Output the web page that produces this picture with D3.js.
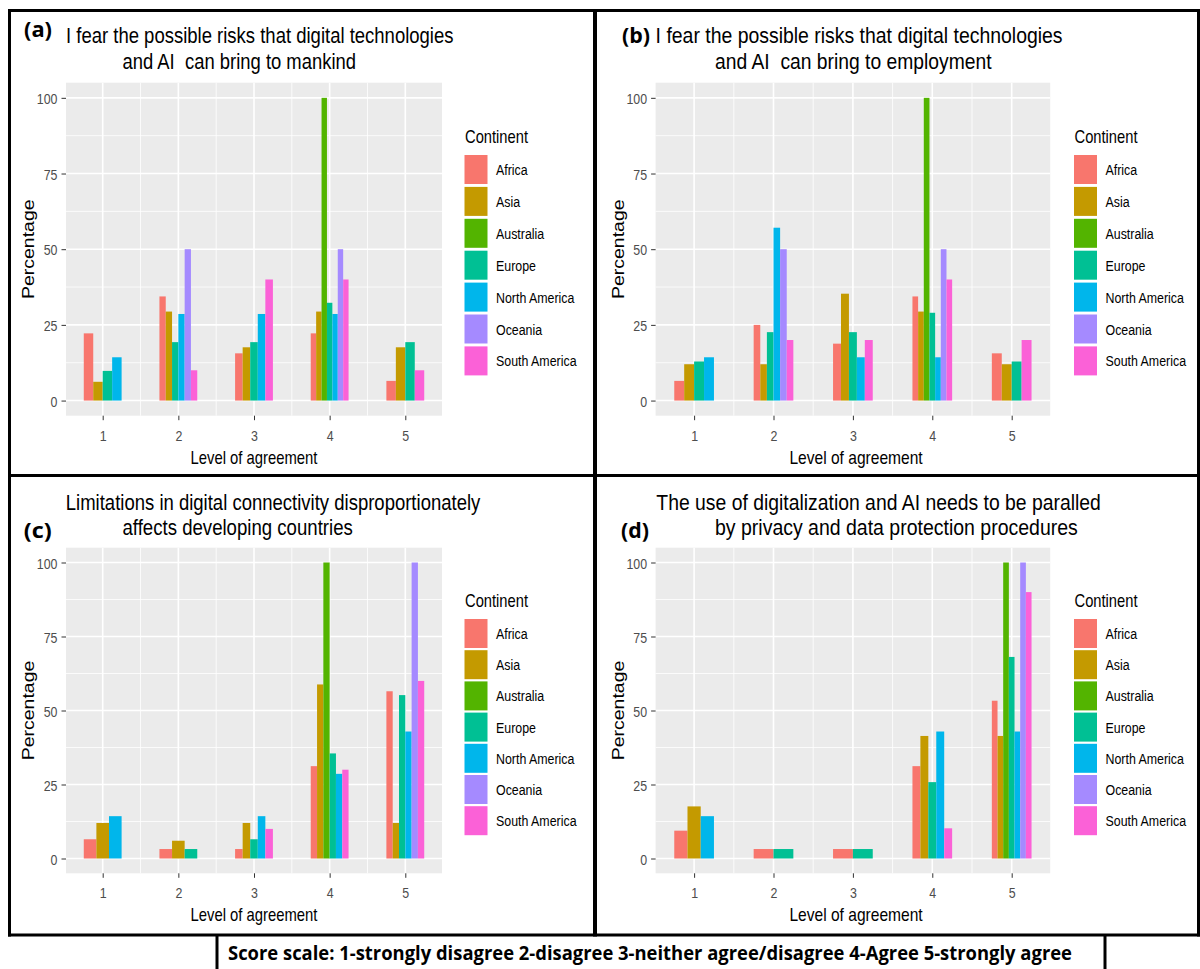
<!DOCTYPE html>
<html>
<head>
<meta charset="utf-8">
<script src="https://cdn.jsdelivr.net/npm/d3@7"></script>
<style>
  body { margin: 0; background: #fff; }
  svg { display: block; font-family: 'Liberation Sans', Arial, sans-serif; }
  text { white-space: pre; }
</style>
</head>
<body>
<svg id="chart" width="1200" height="969"></svg>
<script>
var levels = [1, 2, 3, 4, 5]
var continents = ['Africa', 'Asia', 'Australia', 'Europe', 'North America', 'Oceania', 'South America']
var colors = ['#F8766D', '#C49A00', '#53B400', '#00C094', '#00B6EB', '#A58AFF', '#FB61D7']
var yTicks = [0, 25, 50, 75, 100]

// percentage by level (rows) and continent (columns), null = nobody answered
var mankind = [
  [22.2, 6.2, null, 9.8, 14.3, null, null],
  [34.4, 29.4, null, 19.3, 28.6, 50, 10],
  [15.6, 17.6, null, 19.3, 28.6, null, 40],
  [22.2, 29.4, 100, 32.3, 28.6, 50, 40],
  [6.5, 17.6, null, 19.3, null, null, 10]
]
var employment = [
  [6.5, 12, null, 12.9, 14.3, null, null],
  [25, 12, null, 22.6, 57.1, 50, 20],
  [18.8, 35.3, null, 22.6, 14.3, null, 20],
  [34.4, 29.4, 100, 29, 14.3, 50, 40],
  [15.6, 12, null, 12.9, null, null, 20]
]
var connectivity = [
  [6.5, 12, null, null, 14.3, null, null],
  [3.2, 6, null, 3.2, null, null, null],
  [3.2, 12, null, 6.5, 14.3, null, 10],
  [31.2, 58.8, 100, 35.5, 28.6, null, 30],
  [56.5, 12, null, 55.2, 42.9, 100, 60]
]
var privacy = [
  [9.4, 17.6, null, null, 14.3, null, null],
  [3.2, null, null, 3.2, null, null, null],
  [3.2, null, null, 3.2, null, null, null],
  [31.2, 41.4, null, 25.8, 42.9, null, 10.2],
  [53.3, 41.4, 100, 68.1, 42.9, 100, 90]
]

var caption = 'Score scale: 1-strongly disagree 2-disagree 3-neither agree/disagree 4-Agree 5-strongly agree'

var SX = 0.8 // the source picture is squeezed horizontally
var svg = d3.select('#chart')

var panels = [
  {
    tag: '(a)', tagX: 24, tagY: 36.5, data: mankind,
    left: 66, right: 442, top: 82.7, bottom: 415.7,
    title: [
      {text: 'I fear the possible risks that digital technologies', x: 66, y: 43, w: 387.5},
      {text: 'and AI  can bring to mankind', x: 122.5, y: 69, w: 233.5}
    ],
    legendX: 464.5, legendTitleY: 142.5, keyTop: 155, keyStep: 31.9
  },
  {
    tag: '(b)', tagX: 622, tagY: 42.5, data: employment,
    left: 655.6, right: 1050.2, top: 82.7, bottom: 415.7,
    title: [
      {text: 'I fear the possible risks that digital technologies', x: 655.6, y: 43, w: 407},
      {text: 'and AI  can bring to employment', x: 715, y: 69, w: 276.5}
    ],
    legendX: 1074, legendTitleY: 142.5, keyTop: 155, keyStep: 31.9
  },
  {
    tag: '(c)', tagX: 23.7, tagY: 537.5, data: connectivity,
    left: 66, right: 442, top: 547.7, bottom: 873.3,
    title: [
      {text: 'Limitations in digital connectivity disproportionately', x: 65.8, y: 510, w: 414.5},
      {text: 'affects developing countries', x: 122.5, y: 535, w: 230.3}
    ],
    legendX: 464.5, legendTitleY: 606.5, keyTop: 619, keyStep: 31.2
  },
  {
    tag: '(d)', tagX: 621, tagY: 537.5, data: privacy,
    left: 655.6, right: 1050.2, top: 547.7, bottom: 873.3,
    title: [
      {text: 'The use of digitalization and AI needs to be paralled', x: 656.3, y: 510, w: 444.6},
      {text: 'by privacy and data protection procedures', x: 715, y: 535, w: 362.8}
    ],
    legendX: 1074, legendTitleY: 606.5, keyTop: 619, keyStep: 31.2
  }
]

panels.forEach(drawPanel)
drawFrame()

function squeezed(g, x, y, str, size, anchor) {
  return g.append('text')
    .attr('transform', 'translate(' + x + ',' + y + ') scale(' + SX + ',1)')
    .attr('text-anchor', anchor || 'start')
    .style('font-size', size + 'px')
    .text(str)
}

function drawPanel(p) {
  var g = svg.append('g')
  var x = d3.scaleLinear().domain([0.515, 5.485]).range([p.left, p.right])
  var y = d3.scaleLinear().domain([-5, 105]).range([p.bottom, p.top])

  g.append('rect')
    .attr('x', p.left).attr('y', p.top)
    .attr('width', p.right - p.left).attr('height', p.bottom - p.top)
    .attr('fill', '#EBEBEB')

  // minor grid
  g.selectAll('.minor-y')
    .data([12.5, 37.5, 62.5, 87.5])
    .enter().append('line')
    .attr('x1', p.left).attr('x2', p.right)
    .attr('y1', y).attr('y2', y)
    .attr('stroke', '#fff').attr('stroke-width', 0.8)
  g.selectAll('.minor-x')
    .data([1.5, 2.5, 3.5, 4.5])
    .enter().append('line')
    .attr('x1', x).attr('x2', x)
    .attr('y1', p.top).attr('y2', p.bottom)
    .attr('stroke', '#fff').attr('stroke-width', 0.8)

  // major grid
  g.selectAll('.major-y')
    .data(yTicks)
    .enter().append('line')
    .attr('x1', p.left).attr('x2', p.right)
    .attr('y1', y).attr('y2', y)
    .attr('stroke', '#fff').attr('stroke-width', 1.6)
  g.selectAll('.major-x')
    .data(levels)
    .enter().append('line')
    .attr('x1', x).attr('x2', x)
    .attr('y1', p.top).attr('y2', p.bottom)
    .attr('stroke', '#fff').attr('stroke-width', 1.6)

  // dodged bars: the group width is shared by the bars present at that level
  var bars = []
  p.data.forEach(function(row, li) {
    var present = []
    row.forEach(function(v, ci) {
      if (v != null) present.push({ci: ci, value: v})
    })
    var w = 0.5 / present.length
    present.forEach(function(d, k) {
      bars.push({
        x0: levels[li] - 0.25 + k * w,
        x1: levels[li] - 0.25 + (k + 1) * w,
        value: d.value,
        color: colors[d.ci]
      })
    })
  })

  g.selectAll('.bar')
    .data(bars)
    .enter().append('rect')
    .attr('class', 'bar')
    .attr('x', function(d) { return x(d.x0) })
    .attr('width', function(d) { return x(d.x1) - x(d.x0) })
    .attr('y', function(d) { return y(d.value) })
    .attr('height', function(d) { return y(0) - y(d.value) })
    .attr('fill', function(d) { return d.color })

  // axes
  var yAxis = g.append('g')
    .attr('transform', 'translate(' + p.left + ',0)')
    .call(d3.axisLeft(y).tickValues(yTicks).tickSize(4.5).tickPadding(0))
  yAxis.select('.domain').remove()
  yAxis.selectAll('line').attr('stroke', '#333')
  // keep the label's right edge in place after squeezing
  yAxis.selectAll('text')
    .attr('fill', '#4D4D4D')
    .style('font-size', '15.5px')
    .style('font-family', 'inherit')
    .attr('dy', '0.36em')
    .attr('transform', 'scale(' + SX + ',1)')
    .attr('x', -8.5 / SX)

  var xAxis = g.append('g')
    .attr('transform', 'translate(0,' + p.bottom + ')')
    .call(d3.axisBottom(x).tickValues(levels).tickFormat(d3.format('d')).tickSize(4.5))
  xAxis.select('.domain').remove()
  xAxis.selectAll('line').attr('stroke', '#333')
  xAxis.selectAll('text')
    .attr('fill', '#4D4D4D')
    .style('font-size', '15.5px')
    .style('font-family', 'inherit')
    .attr('dy', null)
    .attr('y', 25)
    .attr('transform', 'scale(' + SX + ',1)')
    .attr('x', 0)

  g.append('text')
    .attr('x', (p.left + p.right) / 2 - 63.5)
    .attr('y', p.bottom + 48)
    .attr('textLength', 127 * (p.right - p.left) / 376)
    .attr('lengthAdjust', 'spacingAndGlyphs')
    .style('font-size', '19px')
    .text('Level of agreement')

  g.append('text')
    .attr('transform', 'translate(' + (p.left - 32) + ',' + ((p.top + p.bottom) / 2) + ') rotate(-90) scale(1,' + SX + ')')
    .attr('text-anchor', 'middle')
    .style('font-size', '19.5px')
    .text('Percentage')

  // titles
  p.title.forEach(function(t) {
    g.append('text')
      .attr('x', t.x).attr('y', t.y)
      .attr('textLength', t.w)
      .attr('lengthAdjust', 'spacingAndGlyphs')
      .style('font-size', '22px')
      .text(t.text)
  })

  g.append('text')
    .attr('x', p.tagX).attr('y', p.tagY)
    .attr('textLength', 28)
    .attr('lengthAdjust', 'spacingAndGlyphs')
    .style('font-size', '22px')
    .style('font-weight', 'bold')
    .style('font-family', "'Open Sans', sans-serif")
    .text(p.tag)

  // legend
  var lg = g.append('g')
  lg.append('text')
    .attr('x', p.legendX + 0.5).attr('y', p.legendTitleY)
    .attr('textLength', 63)
    .attr('lengthAdjust', 'spacingAndGlyphs')
    .style('font-size', '19px')
    .text('Continent')

  var keys = lg.selectAll('.key')
    .data(continents)
    .enter().append('g')
    .attr('transform', function(d, i) {
      return 'translate(' + p.legendX + ',' + (p.keyTop + i * p.keyStep) + ')'
    })
  keys.append('rect')
    .attr('width', 23).attr('height', 29)
    .attr('fill', function(d, i) { return colors[i] })
  keys.each(function(d) {
    squeezed(d3.select(this), 31.5, 20, d, 15.5)
  })
}

function drawFrame() {
  var f = svg.append('g')
    .attr('stroke', '#000')
    .attr('fill', 'none')
  f.append('line').attr('x1', 8).attr('x2', 1200).attr('y1', 10.5).attr('y2', 10.5).attr('stroke-width', 3)
  f.append('line').attr('x1', 9.5).attr('x2', 9.5).attr('y1', 9).attr('y2', 936.5).attr('stroke-width', 3)
  f.append('line').attr('x1', 1198.5).attr('x2', 1198.5).attr('y1', 9).attr('y2', 936.5).attr('stroke-width', 3)
  f.append('line').attr('x1', 595).attr('x2', 595).attr('y1', 9).attr('y2', 936.5).attr('stroke-width', 4)
  f.append('line').attr('x1', 8).attr('x2', 1200).attr('y1', 475.5).attr('y2', 475.5).attr('stroke-width', 3)
  f.append('line').attr('x1', 8).attr('x2', 1200).attr('y1', 935).attr('y2', 935).attr('stroke-width', 3)
  f.append('line').attr('x1', 217).attr('x2', 217).attr('y1', 935).attr('y2', 969).attr('stroke-width', 3)
  f.append('line').attr('x1', 1105).attr('x2', 1105).attr('y1', 935).attr('y2', 969).attr('stroke-width', 3)

  svg.append('text')
    .attr('x', 228).attr('y', 960)
    .attr('textLength', 844)
    .attr('lengthAdjust', 'spacingAndGlyphs')
    .style('font-size', '19px')
    .style('font-weight', 'bold')
    .style('font-family', "'Open Sans', sans-serif")
    .text(caption)
}
</script>
</body>
</html>
